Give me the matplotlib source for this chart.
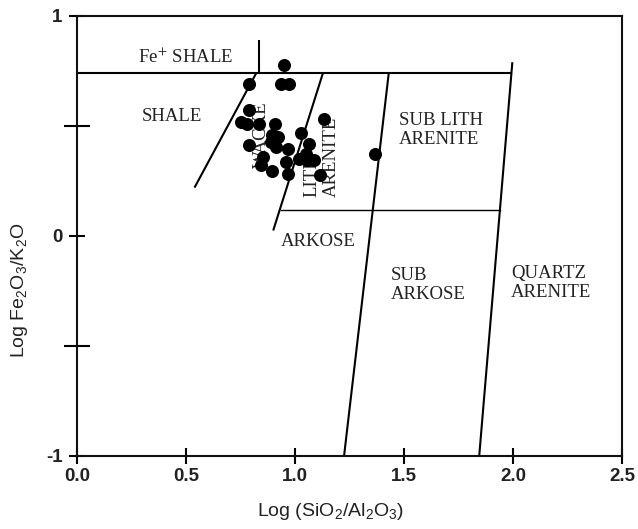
import matplotlib
matplotlib.use("Agg")
import matplotlib.pyplot as plt

plt.rcParams["mathtext.fontset"] = "custom"
plt.rcParams["mathtext.rm"] = "Liberation Sans"
plt.rcParams["mathtext.it"] = "Liberation Sans:italic"
plt.rcParams["mathtext.bf"] = "Liberation Sans:bold"

# Sample compositions: log(SiO2/Al2O3) and log(Fe2O3/K2O)
log_si_al = [0.950, 0.935, 0.973, 0.790, 0.790, 0.752, 0.782, 0.836, 0.909,
             0.896, 0.922, 0.890, 0.913, 1.135, 1.026, 0.790, 0.969, 1.064,
             1.049, 0.851, 0.843, 0.958, 1.018, 1.056, 1.087, 0.896, 0.969,
             1.113, 1.368]
log_fe_k = [0.777, 0.689, 0.689, 0.689, 0.572, 0.518, 0.511, 0.511, 0.508,
            0.458, 0.449, 0.426, 0.403, 0.534, 0.466, 0.412, 0.397, 0.420,
            0.374, 0.359, 0.321, 0.336, 0.352, 0.344, 0.344, 0.295, 0.280,
            0.276, 0.371]

# Classification field boundaries (Herron 1988)
fe_shale_x = [0.836, 0.836]
fe_shale_y = [0.74, 0.89]
top_x = [0.0, 1.99]
top_y = [0.74, 0.74]
shale_wacke_x = [0.822, 0.539]
shale_wacke_y = [0.74, 0.22]
wacke_lith_x = [1.128, 0.900]
wacke_lith_y = [0.74, 0.025]
sub_x = [1.430, 1.225]
sub_y = [0.74, -1.0]
quartz_x = [1.997, 1.845]
quartz_y = [0.79, -1.0]
arkose_x = [0.935, 1.940]
arkose_y = [0.12, 0.12]

x_ticks = [0.0, 0.5, 1.0, 1.5, 2.0, 2.5]
x_tick_labels = ["0.0", "0.5", "1.0", "1.5", "2.0", "2.5"]
y_ticks = [-1, 0, 1]
y_tick_labels = ["-1", "0", "1"]
y_minor_ticks = [-0.5, 0.5]

fig = plt.figure(figsize=(6.38, 5.29), dpi=100)
W, H = 638, 529
ax = fig.add_axes([77 / W, 1 - 456 / H, (622 - 77) / W, (456 - 16) / H])
ax.set_xlim(0, 2.5)
ax.set_ylim(-1, 1)

line_kw = dict(color="black", lw=1.5, solid_capstyle="butt")
ax.plot(fe_shale_x, fe_shale_y, **line_kw)
ax.plot(top_x, top_y, **line_kw)
ax.plot(shale_wacke_x, shale_wacke_y, **line_kw)
ax.plot(wacke_lith_x, wacke_lith_y, **line_kw)
ax.plot(sub_x, sub_y, **line_kw)
ax.plot(quartz_x, quartz_y, **line_kw)
ax.plot(arkose_x, arkose_y, color="black", lw=1.0)

ax.scatter(log_si_al, log_fe_k, s=88, color="black", zorder=3, linewidths=0)

serif = dict(family="Liberation Serif", fontsize=13.5, color="#222222",
             linespacing=1.15)
ax.text(0.50, 0.815, "Fe$^{+}$ SHALE", ha="center", va="center",
        math_fontfamily="stix", **serif)
ax.text(0.434, 0.541, "SHALE", ha="center", va="center", **serif)
ax.text(0.845, 0.46, "WACKE", ha="center", va="center", rotation=90,
        zorder=2, **serif)
ax.text(1.123, 0.36, "LITH\nARENITE", ha="center", va="center", rotation=90,
        multialignment="left", zorder=2, **serif)
ax.text(1.105, -0.027, "ARKOSE", ha="center", va="center", **serif)
ax.text(1.475, 0.482, "SUB LITH\nARENITE", ha="left", va="center",
        multialignment="left", **serif)
ax.text(1.438, -0.223, "SUB\nARKOSE", ha="left", va="center",
        multialignment="left", **serif)
ax.text(1.991, -0.214, "QUARTZ\nARENITE", ha="left", va="center",
        multialignment="left", **serif)

for sp in ax.spines.values():
    sp.set_linewidth(1.5)
    sp.set_color("#111111")

ax.set_xticks(x_ticks)
ax.set_xticklabels(x_tick_labels)
ax.set_yticks(y_ticks)
ax.set_yticklabels(y_tick_labels)
ax.set_yticks(y_minor_ticks, minor=True)
ax.tick_params(axis="x", which="major", direction="inout", length=11,
               width=1.5, pad=3)
ax.tick_params(axis="y", which="major", direction="inout", length=11,
               width=1.5, pad=5)
ax.tick_params(axis="y", which="minor", direction="inout", length=19,
               width=1.5)
ax.tick_params(axis="x", which="minor", bottom=False)
for lab in ax.get_xticklabels() + ax.get_yticklabels():
    lab.set_family("Liberation Sans")
    lab.set_fontsize(13.5)
    lab.set_fontweight("bold")
    lab.set_color("#222222")

fig.text(330 / W, 1 - 512 / H, "Log (SiO$_2$/Al$_2$O$_3$)", ha="center",
         va="center", family="Liberation Sans", fontsize=14,
         color="#222222")
fig.text(20 / W, 1 - 290 / H, "Log Fe$_2$O$_3$/K$_2$O", ha="center",
         va="center", rotation=90, family="Liberation Sans", fontsize=14,
         color="#222222")

fig.savefig("out.png", dpi=100)
